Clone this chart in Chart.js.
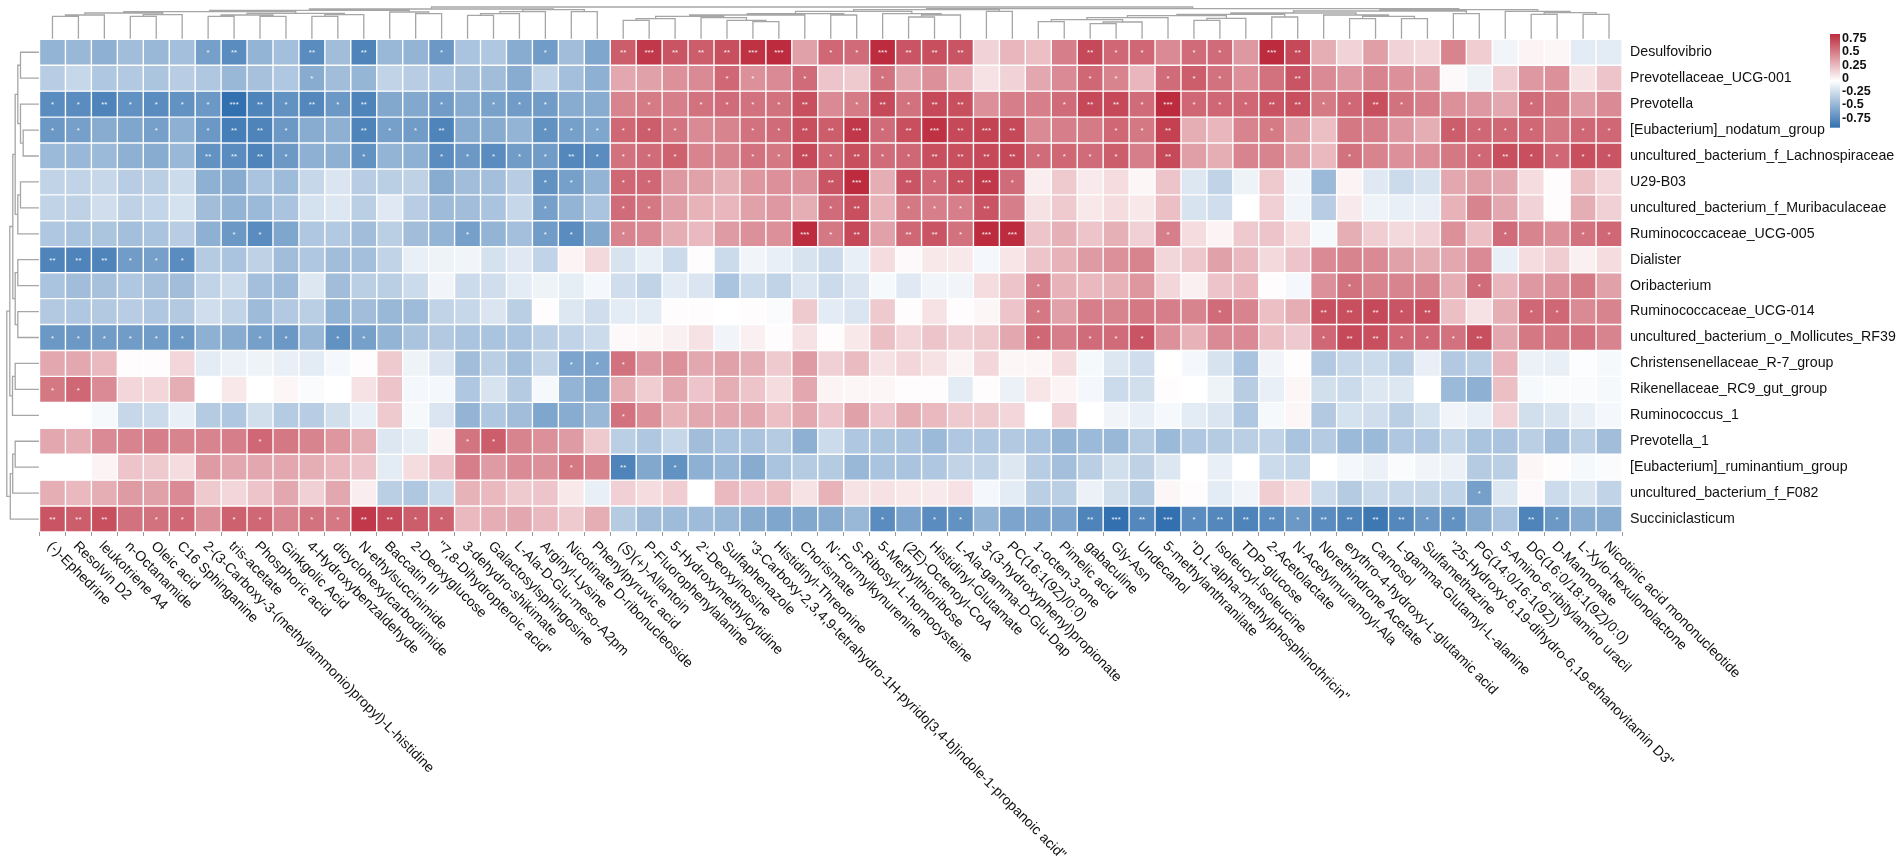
<!DOCTYPE html>
<html>
<head>
<meta charset="utf-8">
<style>
    html, body { margin: 0; padding: 0; background: #fff; }
    canvas { display: block; }
</style>
<script src="https://cdn.jsdelivr.net/npm/chart.js@4/dist/chart.umd.min.js"></script>
</head>
<body>
<canvas id="heatmap" width="1902" height="863"></canvas>
<script>
const taxa = ['Desulfovibrio', 'Prevotellaceae_UCG-001', 'Prevotella', '[Eubacterium]_nodatum_group',
    'uncultured_bacterium_f_Lachnospiraceae', 'U29-B03', 'uncultured_bacterium_f_Muribaculaceae',
    'Ruminococcaceae_UCG-005', 'Dialister', 'Oribacterium', 'Ruminococcaceae_UCG-014',
    'uncultured_bacterium_o_Mollicutes_RF39', 'Christensenellaceae_R-7_group', 'Rikenellaceae_RC9_gut_group',
    'Ruminococcus_1', 'Prevotella_1', '[Eubacterium]_ruminantium_group', 'uncultured_bacterium_f_F082',
    'Succiniclasticum'];

const metabolites = ['(-)-Ephedrine', 'Resolvin D2', 'leukotriene A4', 'n-Octanamide', 'Oleic acid', 'C16 Sphinganine',
    '2-(3-Carboxy-3-(methylammonio)propyl)-L-histidine', 'tris-acetate', 'Phosphoric acid', 'Ginkgolic Acid',
    '4-Hydroxybenzaldehyde', 'dicyclohexylcarbodiimide', 'N-ethylsuccinimide', 'Baccatin III', '2-Deoxyglucose',
    '"7,8-Dihydropteroic acid"', '3-dehydro-shikimate', 'Galactosylsphingosine', 'L-Ala-D-Glu-meso-A2pm',
    'Arginyl-Lysine', 'Nicotinate D-ribonucleoside', 'Phenylpyruvic acid', '(S)(+)-Allantoin', 'P-Fluorophenylalanine',
    '5-Hydroxymethylcytidine', "2'-Deoxyinosine", 'Sulfaphenazole',
    '"3-Carboxy-2,3,4,9-tetrahydro-1H-pyrido[3,4-b]indole-1-propanoic acid"', 'Histidinyl-Threonine', 'Chorismate',
    "N'-Formylkynurenine", 'S-Ribosyl-L-homocysteine', '5-Methylthioribose', '(2E)-Octenoyl-CoA', 'Histidinyl-Glutamate',
    'L-Ala-gamma-D-Glu-Dap', '3-(3-hydroxyphenyl)propionate', 'PC(16:1(9Z)/0:0)', '1-octen-3-one', 'Pimelic acid',
    'gabaculine', 'Gly-Asn', 'Undecanol', '5-methylanthranilate', '"D,L-alpha-methylphosphinothricin"',
    'Isoleucyl-Isoleucine', 'TDP-glucose', '2-Acetolactate', 'N-Acetylmuramoyl-Ala', 'Norethindrone Acetate',
    'erythro-4-hydroxy-L-glutamic acid', 'Carnosol', 'L-gamma-Glutamyl-L-alanine', 'Sulfamethazine',
    '"25-Hydroxy-6,19-dihydro-6,19-ethanovitamin D3"', 'PG(14:0/16:1(9Z))', '5-Amino-6-ribitylamino uracil',
    'DG(16:0/18:1(9Z)/0:0)', 'D-Mannonate', 'L-Xylo-hexulonolactone', 'Nicotinic acid mononucleotide'];

// correlation x 100, one line per taxon
const correlations = [
    [-38,-36,-40,-33,-36,-32,-48,-58,-38,-32,-58,-33,-62,-36,-38,-52,-30,-28,-42,-50,-33,-45, 55,68,58,55,60,70,72,32,52,50,72,58,60,58,15,25, 22,44,62,52,52,40,50,50,35,72,62,28,15,33,15,13,42,17,-5,4,3,-10,-10],
    [-25,-20,-28,-27,-29,-25,-28,-36,-31,-28,-42,-33,-37,-22,-25,-28,-31,-33,-42,-22,-32,-40, 30,32,38,40,52,38,40,50,20,18,48,30,38,25,10,15, 30,40,52,42,25,50,55,48,38,48,58,40,35,42,38,35,2,-6,17,35,38,10,20],
    [-58,-58,-62,-55,-58,-55,-52,-72,-62,-55,-60,-52,-62,-44,-44,-50,-42,-47,-50,-50,-42,-42, 42,45,44,48,50,48,48,60,40,45,62,48,62,60,38,44, 44,50,62,62,50,72,52,52,52,58,60,45,52,60,48,44,38,35,30,50,46,34,40],
    [-52,-48,-42,-45,-48,-40,-52,-65,-62,-52,-42,-40,-62,-48,-50,-62,-42,-42,-38,-55,-48,-45, 52,55,47,40,42,48,50,60,55,68,50,60,70,62,64,62, 40,44,45,52,46,65,28,25,42,45,33,22,46,44,35,28,55,52,52,52,46,52,52],
    [-35,-36,-35,-40,-42,-36,-55,-58,-62,-52,-40,-40,-55,-38,-40,-58,-52,-58,-50,-50,-60,-58, 48,50,54,42,42,48,46,62,52,60,50,52,60,60,62,62, 50,52,50,55,44,62,33,28,42,42,33,24,48,42,38,38,46,52,60,60,52,60,58],
    [-22,-22,-20,-25,-24,-18,-40,-42,-30,-34,-20,-13,-25,-24,-23,-42,-33,-32,-25,-55,-48,-38, 52,52,35,32,27,36,38,38,58,72,28,58,52,60,68,50, 6,18,7,12,3,20,-12,-22,-6,18,-5,-35,4,-11,-18,-14,30,33,30,12,1,22,14],
    [-22,-23,-17,-23,-21,-15,-33,-38,-35,-30,-15,-12,-24,-11,-25,-34,-33,-30,-20,-48,-38,-30, 50,46,33,26,25,32,35,28,50,60,26,46,44,44,58,44, 10,18,8,12,8,22,-14,-17,0,16,-5,-25,7,-6,-8,-8,26,42,30,15,1,28,16],
    [-28,-30,-29,-32,-30,-25,-40,-52,-58,-45,-28,-27,-33,-24,-33,-38,-48,-38,-32,-50,-58,-44, 42,40,28,24,34,38,38,72,46,62,32,52,58,48,72,72, 20,27,20,27,16,44,12,4,18,20,12,-3,28,17,13,15,38,22,50,42,38,48,52],
    [-62,-62,-62,-50,-48,-58,-26,-30,-23,-33,-28,-33,-32,-22,-8,-6,-5,-15,-11,-22,4,13, -14,-8,-18,1,-18,-5,-8,-14,-18,-8,12,2,8,8,-4,9, 20,26,34,38,42,14,19,32,24,13,20,40,42,40,32,28,30,40,-8,12,17,5,12],
    [-30,-33,-31,-28,-31,-33,-22,-18,-32,-34,-12,-33,-24,-24,-18,-5,-18,-17,-10,-6,-9,-4, -17,-22,-10,-13,-30,-18,-22,-13,-18,-13,-3,-11,-5,-5,12,20, 44,26,24,26,36,14,5,20,24,1,-4,38,48,42,42,42,28,50,25,35,38,45,32],
    [-27,-28,-27,-25,-28,-27,-17,-22,-34,-27,-24,-38,-33,-36,-34,-22,-20,-13,-24,1,-12,-17, -10,-10,1,1,0,1,-2,18,-10,-13,18,1,10,1,3,20, 46,32,44,42,46,44,42,50,42,22,28,60,60,62,58,60,22,10,28,52,52,40,42],
    [-52,-52,-50,-50,-50,-52,-40,-42,-48,-52,-36,-55,-48,-38,-30,-27,-30,-30,-30,-24,-22,-18, 2,3,5,10,-5,5,1,10,1,8,22,14,20,16,18,30, 52,44,50,50,58,38,26,40,40,22,18,52,62,60,52,52,48,60,30,46,46,48,42],
    [30,30,24,1,1,14,-10,-7,-6,-8,-10,-4,1,18,-6,-13,-33,-24,-32,-22,-46,-46, 48,35,38,30,32,28,18,34,16,23,10,14,10,4,14,3, 3,12,-3,-12,-17,0,-4,-14,-30,-5,1,-27,-20,-18,-24,-8,-27,-24,25,-7,-8,-1,-3],
    [46,52,40,14,14,28,0,8,0,3,-2,0,10,20,-4,-4,-28,-14,-26,-3,-38,-42, 28,17,30,20,28,20,12,30,4,3,3,1,1,-10,1,-7, 9,4,-4,-18,-16,1,0,-6,-25,-8,3,-16,-18,-12,-12,0,-35,-40,22,-3,-2,-2,-3],
    [0,0,-3,-20,-18,-8,-26,-28,-16,-26,-25,-16,-8,18,-3,-13,-38,-28,-33,-45,-42,-36, 48,38,26,30,30,30,22,30,20,32,20,28,24,18,18,14, 0,15,0,-5,-8,-3,-10,-13,-28,-3,3,-27,-15,-17,-24,-15,-5,-8,15,-16,-14,-8,-4],
    [30,28,40,42,44,42,42,44,52,46,42,36,28,-12,-9,4,47,55,42,38,34,18, -24,-28,-20,-33,-30,-30,-26,-40,-18,-28,-29,-30,-35,-28,-28,-27, -30,-38,-35,-36,-26,-35,-28,-26,-24,-22,-30,-26,-35,-35,-28,-28,-22,-30,-30,-24,-32,-24,-33],
    [0,0,4,20,18,12,34,30,30,30,28,24,20,-10,12,20,44,34,40,38,46,42, -62,-44,-55,-40,-36,-42,-30,-26,-26,-36,-30,-30,-28,-22,-22,-12, -25,-32,-24,-16,-23,-12,0,-8,0,-18,-20,0,-4,-7,-2,-5,-7,-26,-24,3,1,-3,-2],
    [28,24,28,34,32,40,18,14,20,30,16,30,6,-24,-28,-18,26,24,18,20,8,-8, 16,12,17,0,24,20,22,10,26,10,10,8,7,10,-4,-10, -24,-24,-7,-16,-26,3,1,-10,-5,17,12,-18,-26,-19,-20,-20,-22,-48,-12,2,-18,-14,-22],
    [58,55,60,48,48,52,38,54,52,42,48,46,68,62,55,54,24,28,30,24,18,28, -26,-33,-34,-34,-36,-42,-45,-44,-42,-36,-58,-46,-58,-55,-38,-46, -46,-46,-62,-72,-60,-72,-58,-60,-62,-58,-52,-58,-62,-68,-60,-52,-55,-42,-30,-62,-52,-42,-42]
];

// significance stars: column index -> number of stars, one object per taxon
const stars = [
    {6:1,7:2,10:2,12:2,15:1,19:1,22:2,23:3,24:2,25:2,26:2,27:3,28:3,30:1,31:1,32:3,33:2,34:2,35:2,40:2,41:1,42:1,44:1,45:1,47:3,48:2},
    {10:1,26:1,27:1,29:1,32:1,40:1,41:1,43:1,44:1,45:1,48:2},
    {0:1,1:1,2:2,3:1,4:1,5:1,6:1,7:3,8:2,9:1,10:2,11:1,12:2,15:1,17:1,18:1,19:1,23:1,25:1,26:1,27:1,28:1,29:2,31:1,32:2,33:1,34:2,35:2,39:1,40:2,41:2,42:1,43:3,44:1,45:1,46:1,47:2,48:2,49:1,50:1,51:2,52:1,57:1},
    {0:1,1:1,4:1,6:1,7:2,8:2,9:1,12:2,13:1,14:1,15:2,19:1,20:1,21:1,22:1,23:1,24:1,27:1,28:1,29:2,30:2,31:3,32:1,33:2,34:3,35:2,36:3,37:2,41:1,42:1,43:2,47:1,54:1,55:1,56:1,57:1,59:1,60:1},
    {6:2,7:2,8:2,9:1,12:1,15:1,16:1,17:1,18:1,19:1,20:2,21:1,22:1,23:1,24:1,27:1,28:1,29:2,30:1,31:2,32:1,33:1,34:2,35:2,36:2,37:2,38:1,39:1,40:1,41:1,43:2,50:1,55:1,56:2,57:1,58:1,59:1,60:1},
    {19:1,20:1,22:1,23:1,30:2,31:3,33:2,34:1,35:2,36:3,37:1},
    {19:1,22:1,23:1,30:1,31:2,33:1,34:1,35:1,36:2},
    {7:1,8:1,16:1,19:1,20:1,22:1,29:3,30:1,31:2,33:2,34:2,35:1,36:3,37:3,43:1,56:1,59:1,60:1},
    {0:2,1:2,2:2,3:1,4:1,5:1},
    {38:1,50:1,55:1},
    {38:1,45:1,49:2,50:2,51:2,52:1,53:2,57:1,58:1},
    {0:1,1:1,2:1,3:1,4:1,5:1,8:1,9:1,11:1,12:1,38:1,40:1,41:1,42:1,49:1,50:2,51:2,52:1,53:1,54:1,55:2},
    {20:1,21:1,22:1},
    {0:1,1:1},
    {22:1},
    {8:1,16:1,17:1},
    {20:1,22:2,24:1},
    {55:1},
    {0:2,1:2,2:2,4:1,5:1,7:1,8:1,10:1,11:1,12:2,13:2,14:1,15:1,32:1,34:1,35:1,40:2,41:3,42:2,43:3,44:1,45:2,46:2,47:2,48:1,49:2,50:2,51:2,52:2,53:1,54:1,57:2,58:1}
];

// hclust style merges: [left, right, height], negative = leaf, positive = earlier merge (1 based)
const columnMerges = [
    [-1,-2,23],[1,-3,24.3],[-4,-5,23],[3,-6,24.7],[2,4,26.3],[-7,-8,23],[-9,-10,23],[6,7,24.3],[-11,-12,23],[9,-13,24.7],
    [8,10,26],[5,11,27.7],[-15,-16,25.7],[-14,13,27.3],[12,14,29],[-17,-18,24],[16,-19,25.7],[17,-20,27.7],[-21,-22,27.7],[18,19,29.7],
    [15,20,30.3],[-23,-24,19],[22,-25,20.7],[-28,-29,17.7],[-27,24,19],[-26,25,21.7],[23,26,23],[27,-30,24.3],[-31,-32,24.3],[28,29,25.7],
    [-34,-35,22.3],[31,-36,24.3],[-33,32,25.7],[30,33,28],[-37,-38,28],[34,35,29.7],[-39,-40,17.7],[-41,-42,15.7],[38,-43,17.3],[37,39,19.7],
    [40,-44,21.7],[-45,-46,19],[42,-47,21],[41,43,23.7],[-48,-49,22.3],[44,45,25],[-51,-52,20.7],[-53,-54,20.7],[47,48,23],[-50,49,24.3],
    [46,50,26.3],[-55,-56,25.7],[51,52,28.3],[-58,-59,25],[-60,-61,25],[54,55,26.7],[-57,56,28],[53,57,29.7],[36,58,30.7],[21,59,32.3]
];

const rowMerges = [
    [-1,-2,19],[-4,-5,16.3],[-3,2,19],[1,3,21.7],[-6,-7,19],[5,-8,21.7],[4,6,24.3],[-9,-10,21.7],[-11,-12,21.7],[8,9,24.3],
    [7,10,26.7],[-13,-14,24.3],[12,-15,27],[11,13,29.7],[-16,-17,24.3],[15,-18,26.8],[16,-19,29.2],[14,17,32.7]
];

const legendTicks = [0.75, 0.5, 0.25, 0, -0.25, -0.5, -0.75];

const HIGH_COLOR = [188, 44, 62];
const LOW_COLOR = [50, 112, 175];
const COLOR_LIMIT = 72;
const FONT = '"Liberation Sans", Arial, sans-serif';

function valueColor(v) {
    const t = Math.min(Math.abs(v) / COLOR_LIMIT, 1);
    const end = v < 0 ? LOW_COLOR : HIGH_COLOR;
    const mix = i => Math.round(255 + (end[i] - 255) * t);
    return `rgb(${mix(0)},${mix(1)},${mix(2)})`;
}

// heights are in pixels of the original tree, one heatmap cell is about 26 of them
const CELL_UNITS = 25.94;

// turn merges into line points, gaps are NaN so one dataset can hold the whole tree
function treePoints(merges, horizontal) {
    const nodes = [];
    const points = [];
    const node = ref => ref < 0 ? { pos: -ref - 0.5, h: 0.6 } : nodes[ref - 1];
    const toPoint = (pos, h) => horizontal
        ? { x: pos, y: -h / CELL_UNITS }
        : { x: -h / CELL_UNITS, y: pos };
    merges.forEach(([left, right, h]) => {
        const a = node(left);
        const b = node(right);
        points.push(toPoint(a.pos, a.h), toPoint(a.pos, h), toPoint(b.pos, h), toPoint(b.pos, b.h), { x: NaN, y: NaN });
        nodes.push({ pos: (a.pos + b.pos) / 2, h: h });
    });
    return points;
}

const cellDatasets = taxa.map((name, r) => ({
    type: 'bar',
    label: name,
    data: correlations[r].map((v, c) => ({ x: c + 0.5, y: [r, r + 1], v: v })),
    backgroundColor: ctx => valueColor(ctx.raw.v),
    borderColor: 'rgba(255,255,255,0.8)',
    borderWidth: 0.7,
    borderSkipped: false,
    inflateAmount: 0,
    grouped: false,
    barPercentage: 1,
    categoryPercentage: 1
}));

const treeStyle = {
    type: 'scatter',
    showLine: true,
    spanGaps: false,
    pointRadius: 0,
    borderColor: '#a6a6a6',
    borderWidth: 1.3
};

// stars, rotated column labels and colour key are not something the scales draw by themselves
const annotations = {
    id: 'annotations',
    afterDraw(chart) {
        const { ctx, scales: { x, y } } = chart;
        ctx.save();

        ctx.fillStyle = 'rgba(255,255,255,0.9)';
        ctx.font = `8px ${FONT}`;
        ctx.textAlign = 'center';
        ctx.textBaseline = 'middle';
        stars.forEach((row, r) => {
            Object.keys(row).forEach(c => {
                ctx.fillText('*'.repeat(row[c]), x.getPixelForValue(+c + 0.5), y.getPixelForValue(r + 0.5) + 1);
            });
        });

        ctx.fillStyle = '#111';
        ctx.font = `14.1px ${FONT}`;
        ctx.textAlign = 'left';
        metabolites.forEach((name, c) => {
            ctx.save();
            ctx.translate(x.getPixelForValue(c + 0.5) - 3, chart.chartArea.bottom + 12);
            ctx.rotate(Math.PI / 4);
            ctx.fillText(name, 0, 0);
            ctx.restore();
        });

        const top = 34, bottom = 127.7, left = 1830, width = 10;
        const grad = ctx.createLinearGradient(0, top, 0, bottom);
        grad.addColorStop(0, valueColor(COLOR_LIMIT));
        grad.addColorStop(0.5, '#fff');
        grad.addColorStop(1, valueColor(-COLOR_LIMIT));
        ctx.fillStyle = grad;
        ctx.fillRect(left, top, width, bottom - top);

        ctx.fillStyle = '#111';
        ctx.font = `bold 12.6px ${FONT}`;
        legendTicks.forEach(v => {
            ctx.fillText(String(v), left + 12, 78.5 - v * 53);
        });
        ctx.restore();
    }
};

new Chart(document.getElementById('heatmap'), {
    type: 'bar',
    data: {
        datasets: [
            ...cellDatasets,
            { ...treeStyle, label: 'columns', data: treePoints(columnMerges, true) },
            { ...treeStyle, label: 'rows', data: treePoints(rowMerges, false) }
        ]
    },
    plugins: [annotations],
    options: {
        responsive: false,
        animation: false,
        layout: { padding: 0 },
        plugins: { legend: { display: false }, tooltip: { enabled: false } },
        scales: {
            x: {
                type: 'linear',
                position: 'bottom',
                offset: false,
                min: -1.5227,
                max: 61,
                afterBuildTicks: scale => { scale.ticks = metabolites.map((_, c) => ({ value: c + 0.5 })); },
                afterFit: scale => {
                    scale.height = 331;
                    scale.paddingLeft = scale.paddingRight = 0;
                },
                ticks: { display: false, autoSkip: false },
                border: { display: false },
                grid: { drawOnChartArea: false, drawTicks: true, tickLength: 4, color: '#999', lineWidth: 1 }
            },
            y: {
                type: 'linear',
                position: 'right',
                reverse: true,
                min: -1.5156,
                max: 19,
                afterBuildTicks: scale => { scale.ticks = taxa.map((_, r) => ({ value: r + 0.5 })); },
                afterFit: scale => {
                    scale.width = 280;
                    scale.paddingTop = scale.paddingBottom = 0;
                },
                border: { display: false },
                grid: { display: false },
                ticks: {
                    autoSkip: false,
                    padding: 0,
                    color: '#111',
                    font: { family: FONT, size: 14.2 },
                    callback: (value, index) => taxa[index]
                }
            }
        }
    }
});
</script>
</body>
</html>
